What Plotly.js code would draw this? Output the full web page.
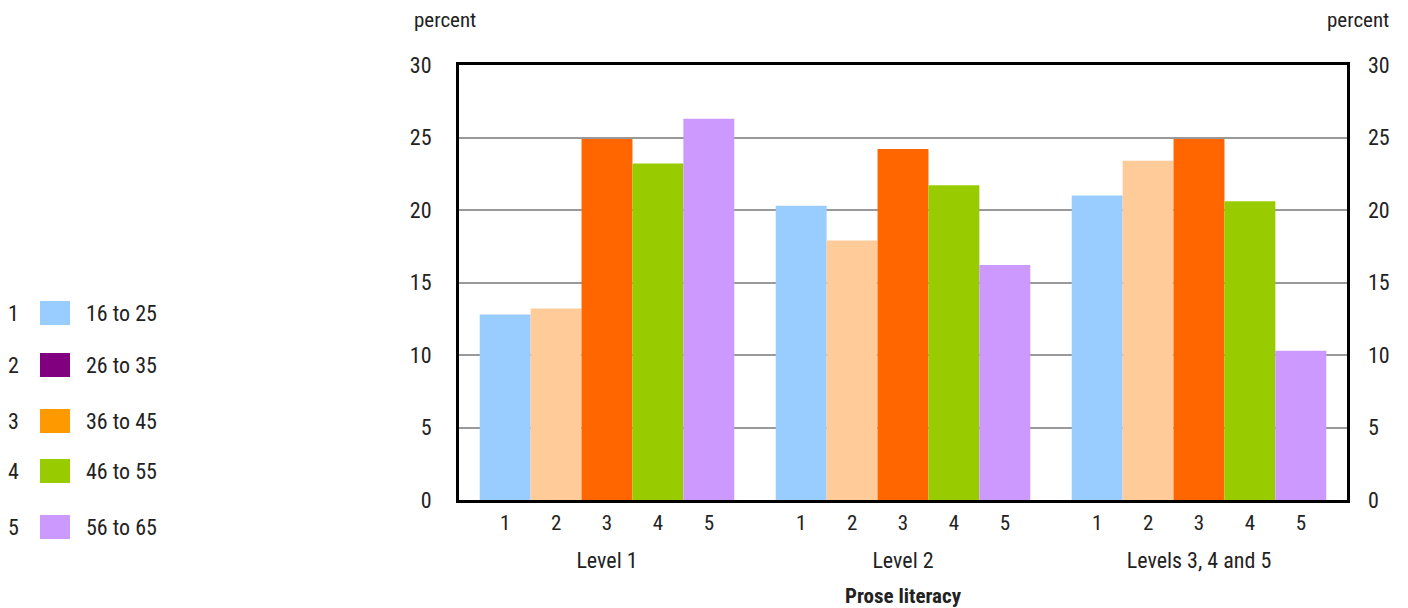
<!DOCTYPE html>
<html>
<head>
<meta charset="utf-8">
<script src="https://cdn.plot.ly/plotly-3.0.1.min.js"></script>
<style>html,body{margin:0;padding:0;background:#fff;}#chart{width:1408px;height:608px;}</style>
</head>
<body>
<div id="chart"></div>
<script>
// ---- data ----
const levels = ["Level 1", "Level 2", "Levels 3, 4 and 5"];
const seriesNums = ["1", "2", "3", "4", "5"];
const ageGroups = ["16 to 25", "26 to 35", "36 to 45", "46 to 55", "56 to 65"];
const age16to25 = [12.8, 20.3, 21.0];
const age26to35 = [13.2, 17.9, 23.4];
const age36to45 = [24.9, 24.2, 24.9];
const age46to55 = [23.2, 21.7, 20.6];
const age56to65 = [26.3, 16.2, 10.3];
const yTicks = [0, 5, 10, 15, 20, 25, 30];

// ---- styles ----
const barColors = ["#99CCFF", "#FFCC99", "#FF6600", "#99CC00", "#CC99FF"];
const legendColors = ["#99CCFF", "#800080", "#FF9900", "#99CC00", "#CC99FF"];
const FONT = "'Liberation Sans Narrow', 'Roboto Condensed', 'Arial Narrow', Roboto, sans-serif";
const TXT = "#222222";
const FS = 21;
const FSX = 22;

const seriesValues = [age16to25, age26to35, age36to45, age46to55, age56to65];
const catIdx = levels.map((_, j) => j);
const BARGAP = 0.14;

const traces = seriesValues.map((vals, i) => ({
  type: "bar",
  name: ageGroups[i],
  x: catIdx,
  y: vals,
  marker: { color: barColors[i], line: { width: 0 } },
  showlegend: false,
  hoverinfo: "y"
}));

// sub-tick positions (centre of each grouped bar)
const groupW = 1 - BARGAP;
const subTickVals = [], subTickText = [];
catIdx.forEach(j => {
  seriesNums.forEach((s, i) => {
    subTickVals.push(j + (i - 2) * groupW / 5);
    subTickText.push(s);
  });
});

// geometry helpers (pixel -> paper)
const L = 459, R = 61, T = 65, B = 63, W = 1408, H = 608;
const pw = W - L - R, ph = H - T - B;
const px = x => (x - L) / pw;
const py = y => (H - B - y) / ph;
const plotBottom = 500;

const shapes = [];
const annotations = [];
const legendRowY = [313, 365, 421, 471, 527];
legendColors.forEach((c, i) => {
  const cy = legendRowY[i];
  shapes.push({ type: "rect", xref: "paper", yref: "paper",
    x0: px(40), x1: px(70), y0: py(cy + 12), y1: py(cy - 12),
    fillcolor: c, line: { width: 0 } });
  annotations.push({ xref: "paper", yref: "paper", x: px(13), y: py(cy),
    text: seriesNums[i], showarrow: false, xanchor: "center", yanchor: "middle",
    font: { family: FONT, size: FSX, color: TXT } });
  annotations.push({ xref: "paper", yref: "paper", x: px(84), y: py(cy),
    text: ageGroups[i], showarrow: false, xanchor: "left", yanchor: "middle",
    font: { family: FONT, size: FSX, color: TXT } });
});
annotations.push({ xref: "paper", yref: "paper", x: px(445), y: py(20), text: "percent",
  showarrow: false, xanchor: "center", yanchor: "middle", font: { family: FONT, size: FS, color: TXT } });
annotations.push({ xref: "paper", yref: "paper", x: px(1358), y: py(20), text: "percent",
  showarrow: false, xanchor: "center", yanchor: "middle", font: { family: FONT, size: FS, color: TXT } });

const yDomain = [(H - B - plotBottom) / ph, 1];

const layout = {
  width: W, height: H,
  margin: { l: L, r: R, t: T, b: B, pad: 0 },
  paper_bgcolor: "#ffffff", plot_bgcolor: "#ffffff",
  font: { family: FONT, size: FS, color: TXT },
  barmode: "group", bargap: BARGAP, bargroupgap: 0,
  showlegend: false,
  xaxis: {
    type: "linear", range: [-0.5, 2.5], anchor: "y",
    tickmode: "array", tickvals: subTickVals, ticktext: subTickText,
    ticks: "", ticklabelstandoff: 2,
    showgrid: false, zeroline: false,
    showline: true, linecolor: "#000000", linewidth: 3, mirror: true,
    tickfont: { family: FONT, size: FS, color: TXT },
    fixedrange: true
  },
  xaxis2: {
    type: "linear", matches: "x", overlaying: "x", anchor: "free", position: 0, side: "bottom",
    tickmode: "array", tickvals: catIdx, ticktext: levels,
    ticks: "", showgrid: false, zeroline: false, showline: false,
    tickfont: { family: FONT, size: FSX, color: TXT },
    title: { text: "<b>Prose literacy</b>", standoff: 18, font: { family: FONT, size: FS, color: TXT } },
    automargin: false
  },
  yaxis: {
    domain: yDomain, range: [0, 30],
    tickmode: "array", tickvals: yTicks, ticks: "", ticklabelstandoff: 20,
    showgrid: true, gridcolor: "#999999", gridwidth: 2,
    zeroline: false,
    showline: true, linecolor: "#000000", linewidth: 3, mirror: true,
    tickfont: { family: FONT, size: FSX, color: TXT },
    fixedrange: true
  },
  yaxis2: {
    domain: yDomain, range: [0, 30], overlaying: "y", side: "right", matches: "y",
    tickmode: "array", tickvals: yTicks, ticks: "", ticklabelstandoff: 20,
    showgrid: false, zeroline: false, showline: false,
    tickfont: { family: FONT, size: FSX, color: TXT }
  },
  shapes: shapes,
  annotations: annotations
};

// dummy trace to activate secondary axes
traces.push({ type: "scatter", x: [null], y: [null], xaxis: "x2", yaxis: "y2", showlegend: false, hoverinfo: "skip" });

Plotly.newPlot("chart", traces, layout, { displayModeBar: false, staticPlot: true });
</script>
</body>
</html>
